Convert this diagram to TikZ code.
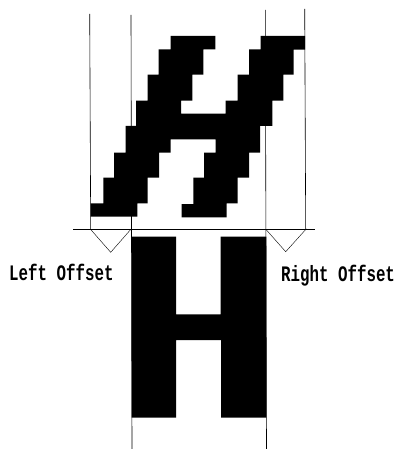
\documentclass[tikz,border=0pt]{standalone}
\usepackage{fontspec}
\setmonofont{Liberation Mono}
\usetikzlibrary{positioning}
\tikzset{
    guide/.style={black, line width=0.6pt},
    offsetmark/.style={black, line width=0.4pt},
    offsetlabel/.style={font=\ttfamily\bfseries\fontsize{15.8}{15.8}\selectfont, inner sep=0pt, yscale=1.4, transform shape}
}

\begin{document}
\begin{tikzpicture}[x=1pt, y=-1pt]
    \useasboundingbox (0, 0) rectangle (397, 449);

    % Italic H
    \fill[black] (170.7, 36) -- (215.3, 36) -- (215.3, 49.3) -- (203.3, 49.3) -- (203.3, 74.7)
        -- (192.3, 74.7) -- (192.3, 100.7) -- (181, 100.7) -- (181, 113.7) -- (225.7, 113.7)
        -- (225.7, 100.7) -- (237.7, 100.7) -- (237.7, 74.7) -- (249, 74.7) -- (249, 49.3)
        -- (260.7, 49.3) -- (260.7, 36) -- (305, 36) -- (305, 49.7) -- (293.7, 49.7)
        -- (293.7, 74.7) -- (283.3, 74.7) -- (283.3, 100.7) -- (272.3, 100.7) -- (272.3, 126)
        -- (260, 126) -- (260, 152.7) -- (249, 152.7) -- (249, 177.7) -- (237.7, 177.7)
        -- (237.7, 203.3) -- (226.7, 203.3) -- (226.7, 217.3) -- (181.7, 217.3) -- (181.7, 204)
        -- (193.3, 204) -- (193.3, 177.7) -- (204, 177.7) -- (204, 152.7) -- (215.7, 152.7)
        -- (215.7, 139.3) -- (170.7, 139.3) -- (170.7, 152.7) -- (159, 152.7) -- (159, 177.7)
        -- (147.7, 177.7) -- (147.7, 203.3) -- (137.3, 203.3) -- (137.3, 216.7) -- (90.7, 216.7)
        -- (90.7, 203.3) -- (103.3, 203.3) -- (103.3, 177.7) -- (114, 177.7) -- (114, 152.7)
        -- (125.7, 152.7) -- (125.7, 126) -- (136, 126) -- (136, 100.7) -- (147.7, 100.7)
        -- (147.7, 74.7) -- (158.7, 74.7) -- (158.7, 49.3) -- (170.7, 49.3) -- cycle;

    % Upright H
    \fill[black] (131.5, 236.7) -- (176, 236.7) -- (176, 314.3) -- (220.7, 314.3) -- (220.7, 236.7)
        -- (266.3, 236.7) -- (266.3, 417.5) -- (221, 417.5) -- (221, 340) -- (176, 340)
        -- (176, 417.5) -- (131.5, 417.5) -- cycle;

    % Vertical guides
    \draw[guide] (89.7, 14) -- (90.7, 229.5);
    \draw[guide] (131, 15) -- (132, 449);
    \draw[guide] (265.3, 10) -- (266.5, 449);
    \draw[guide] (304.7, 9) -- (305.7, 229.5);

    % Baseline
    \draw[black, line width=0.9pt] (73, 229.5) -- (315, 229.5);

    % Offset marks
    \draw[offsetmark] (90.7, 229.5) -- (110.7, 252.3) -- (130.7, 229.5);
    \draw[offsetmark] (266, 229.5) -- (285.7, 251.7) -- (305.7, 229.5);

    % Labels
    \node[offsetlabel, anchor=west] (leftoffset) at (9, 272.7) {Left Offset};
    \node[offsetlabel, anchor=west] (rightoffset) at (281, 276) {Right Offset};
\end{tikzpicture}
\end{document}
